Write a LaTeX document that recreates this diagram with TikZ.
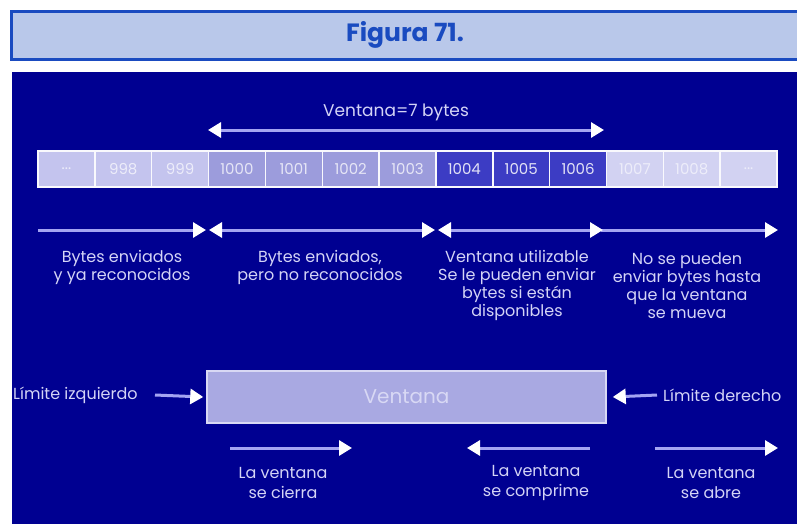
\documentclass[tikz,border=0pt]{standalone}
\usepackage{fontspec}
\setmainfont{Poppins}
\usetikzlibrary{arrows.meta}
\definecolor{panel}{HTML}{000091}
\definecolor{titlefill}{HTML}{B9C8EA}
\definecolor{titleblue}{HTML}{1A4BC0}
\definecolor{lineblue}{HTML}{A4A4F2}
\definecolor{txt}{HTML}{D4D4F6}
\definecolor{cellA}{HTML}{C4C4EE}
\definecolor{cellB}{HTML}{9C9CDC}
\definecolor{cellC}{HTML}{3C3CC4}
\definecolor{cellD}{HTML}{D2D2F2}
\definecolor{winfill}{HTML}{A9A9E2}
\definecolor{winline}{HTML}{D8D8F4}
\newcommand\celldots{...}
\begin{document}
\begin{tikzpicture}[x=1pt,y=-1pt,
  cellbox/.style={draw=white!90!cellA,line width=1.5pt,minimum width=56.85pt,minimum height=36pt,inner sep=0pt,font=\fontsize{15}{18}\selectfont},
  ca/.style={cellbox,fill=cellA,text=white!70!cellA},
  cb/.style={cellbox,fill=cellB,text=white!75!cellB},
  cc/.style={cellbox,fill=cellC,text=white!85!cellC},
  cd/.style={cellbox,fill=cellD,text=white!60!cellD},
  arr/.style={lineblue,line width=3pt,-{Triangle[length=13pt,width=15pt,color=white]}},
  darr/.style={lineblue,line width=3pt,{Triangle[length=13pt,width=15pt,color=white]}-{Triangle[length=13pt,width=15pt,color=white]}},
  lbl/.style={text=txt,align=center,font=\fontsize{16}{18}\selectfont,inner sep=0pt},
  lblb/.style={text=txt,align=center,font=\fontsize{16}{20}\selectfont,inner sep=0pt}]
\useasboundingbox (0,0) rectangle (797,524);
\fill[white] (0,0) rectangle (797,524);
% title
\draw[titleblue,fill=titlefill,line width=3pt] (11.5,11.5) rectangle (805,59.5);
\node[text=titleblue,font=\fontsize{25}{28}\selectfont\bfseries] (title) at (405,35) {Figura 71.};
% panel
\fill[panel] (12,72) rectangle (800,530);
% cells
\foreach \i/\t/\s in {0/\celldots/ca,1/998/ca,2/999/ca,3/1000/cb,4/1001/cb,5/1002/cb,6/1003/cb,7/1004/cc,8/1005/cc,9/1006/cc,10/1007/cd,11/1008/cd,12/\celldots/cd}{
  \node[\s] (c\i) at ({38+56.85*\i+28.425},169) {\t};
}
% window arrow
\coordinate (w1) at (208,130);
\coordinate (w2) at (604,130);
\draw[darr] (w1) -- (w2);
\node[lbl,font=\fontsize{17}{20}\selectfont] (wl) at (396,112) {Ventana=7 bytes};
% row arrows
\coordinate (a0) at (38,230);
\coordinate (a1) at (206,230);
\coordinate (a2) at (209,230);
\coordinate (a3) at (435,230);
\coordinate (a4) at (438,230);
\coordinate (a5) at (603,230);
\coordinate (a6) at (601,230);
\coordinate (a7) at (778,230);
\draw[arr] (a0) -- (a1);
\draw[darr] (a2) -- (a3);
\draw[arr] (a6) -- (a7);
\draw[darr] (a4) -- (a5);
\node[lbl] (l1) at (122,267) {Bytes enviados\\y ya reconocidos};
\node[lbl] (l2) at (320,267) {Bytes enviados,\\pero no reconocidos};
\node[lbl] (l3) at (517,285.5) {Ventana utilizable\\Se le pueden enviar\\bytes si están\\disponibles};
\node[lbl] (l4) at (687,285.5) {No se pueden\\enviar bytes hasta\\que la ventana\\se mueva};
% window box
\node[draw=winline,fill=winfill,line width=1.5pt,minimum width=399pt,minimum height=52pt,text=winline,font=\fontsize{20}{24}\selectfont] (win) at (406.5,397) {Ventana};
\node[lbl,anchor=west] (li) at (13,395) {Límite izquierdo};
\node[lbl,anchor=west] (ld) at (663,395) {Límite derecho};
\coordinate (li1) at (155,395);
\coordinate (ld1) at (657,395);
\draw[arr] (li1) -- ([xshift=-3pt]win.west);
\draw[arr] (ld1) -- ([xshift=6pt]win.east);
% bottom arrows
\coordinate (b1) at (230,448);
\coordinate (b2) at (352,448);
\coordinate (b3) at (590,448);
\coordinate (b4) at (467,448);
\coordinate (b5) at (655,448);
\coordinate (b6) at (778,448);
\draw[arr] (b1) -- (b2);
\draw[arr] (b3) -- (b4);
\draw[arr] (b5) -- (b6);
\node[lblb] (m1) at (283,483) {La ventana\\se cierra};
\node[lblb] (m2) at (536,483) {La ventana\\se comprime};
\node[lblb] (m3) at (711,483) {La ventana\\se abre};
\end{tikzpicture}
\end{document}
